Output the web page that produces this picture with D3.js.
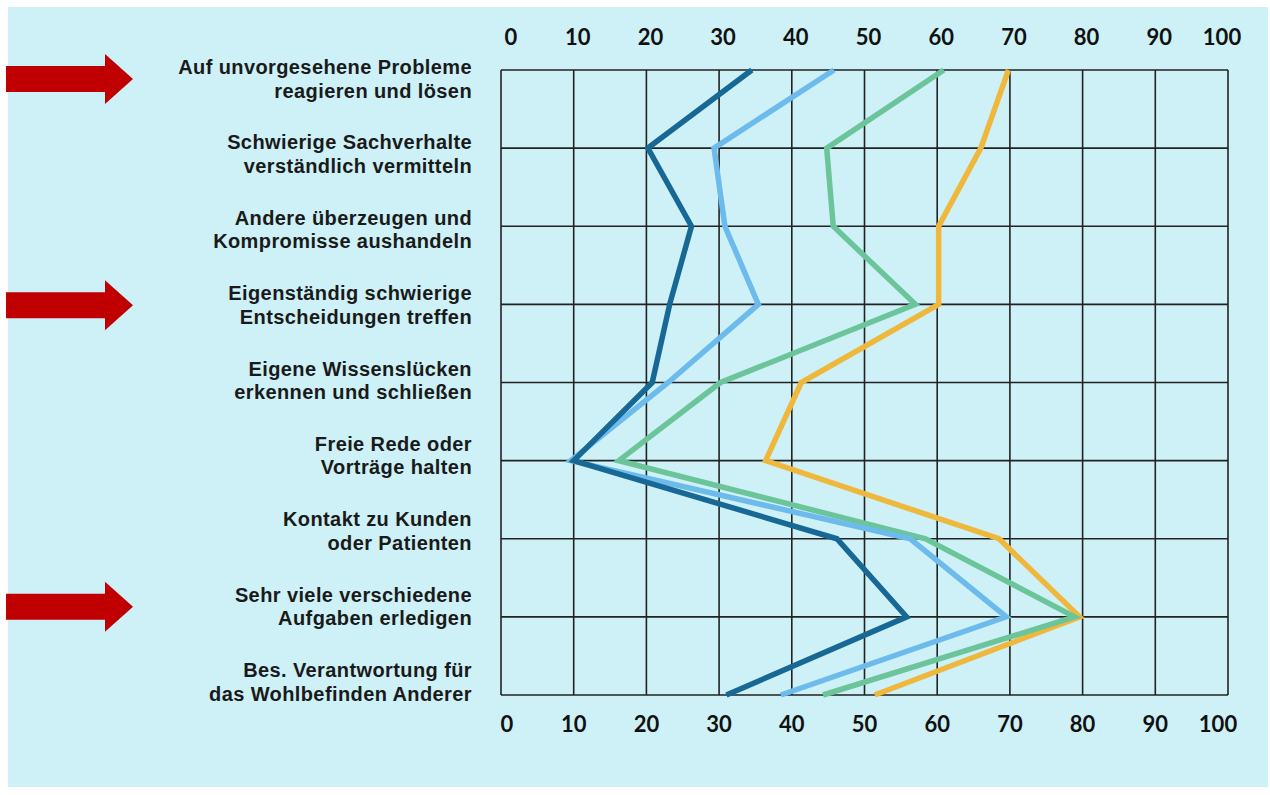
<!DOCTYPE html>
<html>
<head>
<meta charset="utf-8">
<script src="https://cdn.jsdelivr.net/npm/d3@7"></script>
<style>
  body { margin: 0; background: #fff; }
  .lbl { font-family: "Liberation Sans", Arial, sans-serif; font-weight: 700; font-size: 20px; letter-spacing: 0.4px; fill: #1a1a1a; }
  .tick { font-family: Lato, sans-serif; font-weight: 700; font-size: 22px; fill: #111; }
</style>
</head>
<body>
<div class="chart"></div>
<script>
// Data
const categories = [
  ['Auf unvorgesehene Probleme', 'reagieren und lösen'],
  ['Schwierige Sachverhalte', 'verständlich vermitteln'],
  ['Andere überzeugen und', 'Kompromisse aushandeln'],
  ['Eigenständig schwierige', 'Entscheidungen treffen'],
  ['Eigene Wissenslücken', 'erkennen und schließen'],
  ['Freie Rede oder', 'Vorträge halten'],
  ['Kontakt zu Kunden', 'oder Patienten'],
  ['Sehr viele verschiedene', 'Aufgaben erledigen'],
  ['Bes. Verantwortung für', 'das Wohlbefinden Anderer']
]
const highlighted = [0, 3, 7]   // rows with a red arrow

const darkBlue  = [34.5, 20.2, 26.2, 23.2, 20.8, 10.0, 46.2, 55.8, 31.0]
const lightBlue = [45.8, 29.3, 30.8, 35.4, 23.0,  9.6, 56.3, 69.5, 38.5]
const green     = [60.9, 44.8, 45.7, 57.0, 30.2, 16.2, 58.4, 78.9, 44.3]
const yellow    = [69.8, 66.0, 60.2, 60.2, 41.3, 36.4, 68.5, 79.6, 51.4]

const ticks = [0, 10, 20, 30, 40, 50, 60, 70, 80, 90, 100]

const series = [
  { values: yellow, color: '#efb83c' },
  { values: green, color: '#6cc49b' },
  { values: lightBlue, color: '#6dbbec' },
  { values: darkBlue, color: '#176895' }
]

const W = 1270, H = 795
const rows = d3.range(categories.length)

const x = d3.scaleLinear().domain([0, 100]).range([501, 1228])
const y = d3.scalePoint().domain(rows).range([70, 695])
const yLabel = d3.scalePoint().domain(rows).range([78, 681])

const svg = d3.select('.chart').append('svg')
  .attr('width', W).attr('height', H)

svg.append('rect')
  .attr('x', 8).attr('y', 7)
  .attr('width', W - 10).attr('height', H - 15)
  .attr('fill', '#cdf1f7')

// grid
const grid = svg.append('g').attr('stroke', '#222').attr('stroke-width', 1.6)
grid.selectAll('.v').data(ticks).join('line')
  .attr('x1', d => x(d)).attr('x2', d => x(d))
  .attr('y1', y(0)).attr('y2', y(rows.length - 1))
grid.selectAll('.h').data(rows).join('line')
  .attr('x1', x(0)).attr('x2', x(100))
  .attr('y1', d => y(d)).attr('y2', d => y(d))

// tick labels top and bottom
const tickDx = d => d === 0 ? 10 : d === 100 ? -6 : 4
svg.append('g').selectAll('text').data(ticks).join('text')
  .classed('tick', true)
  .attr('x', d => x(d) + tickDx(d)).attr('y', 45)
  .attr('text-anchor', 'middle')
  .text(d => d)
svg.append('g').selectAll('text').data(ticks).join('text')
  .classed('tick', true)
  .attr('x', d => x(d) + tickDx(d) - 4).attr('y', 732)
  .attr('text-anchor', 'middle')
  .text(d => d)

// category labels
const lbl = svg.append('g').selectAll('text').data(rows).join('text')
  .classed('lbl', true)
  .attr('text-anchor', 'end')
  .attr('x', 472)
  .attr('y', d => yLabel(d))
lbl.append('tspan').attr('x', 472).attr('dy', -4).text(d => categories[d][0])
lbl.append('tspan').attr('x', 472).attr('dy', 23.5).text(d => categories[d][1])

// arrows
svg.append('g').selectAll('path').data(highlighted).join('path')
  .attr('fill', '#c00000')
  .attr('d', d => {
    const c = yLabel(d) + 1
    return `M6,${c - 13}H105V${c - 25}L133,${c}L105,${c + 25}V${c + 13}H6Z`
  })

// lines
const lineGen = d3.line()
  .x(d => x(d))
  .y((d, i) => y(i))

svg.append('g').selectAll('path').data(series).join('path')
  .attr('d', d => lineGen(d.values))
  .attr('fill', 'none')
  .attr('stroke', d => d.color)
  .attr('stroke-width', 5.5)
  .attr('stroke-linejoin', 'miter')
</script>
</body>
</html>
